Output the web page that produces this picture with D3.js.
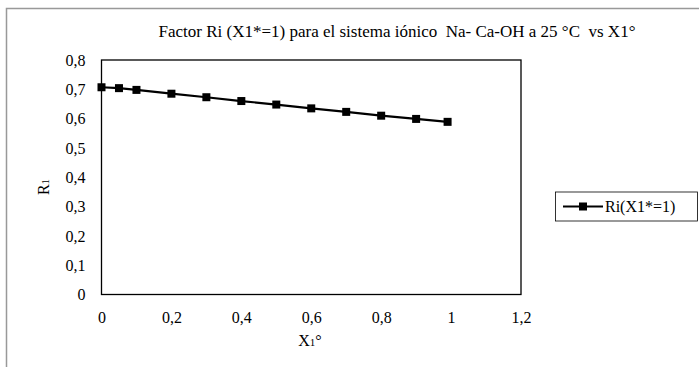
<!DOCTYPE html>
<html>
<head>
<meta charset="utf-8">
<script src="https://cdnjs.cloudflare.com/ajax/libs/d3/7.8.5/d3.min.js"></script>
<style>
  body { margin: 0; background: #fff; }
  svg, svg text { font-family: "Liberation Serif", "Times New Roman", serif; }
</style>
</head>
<body>
<div id="chart"></div>
<script>
const xValues = [0, 0.05, 0.1, 0.2, 0.3, 0.4, 0.5, 0.6, 0.7, 0.8, 0.9, 0.99];
const riValues = [0.707, 0.704, 0.698, 0.685, 0.673, 0.660, 0.648, 0.635, 0.623, 0.610, 0.599, 0.589];
const xTicks = [0, 0.2, 0.4, 0.6, 0.8, 1, 1.2];
const yTicks = [0, 0.1, 0.2, 0.3, 0.4, 0.5, 0.6, 0.7, 0.8];
const seriesName = "Ri(X1*=1)";

const data = xValues.map((x, i) => ({ x: x, y: riValues[i] }));

const width = 699;
const height = 367;
const margin = { top: 60, right: 178, bottom: 72.5, left: 101.5 };

const svg = d3.select("#chart")
  .append("svg")
  .attr("width", width)
  .attr("height", height);

// outer frame
svg.append("rect")
  .attr("x", 6.5)
  .attr("y", 8.5)
  .attr("width", 720)
  .attr("height", 400)
  .attr("fill", "none")
  .attr("stroke", "#999")
  .attr("stroke-width", 1.5);

const x = d3.scaleLinear()
  .domain([0, 1.2])
  .range([margin.left, width - margin.right]);

const y = d3.scaleLinear()
  .domain([0, 0.8])
  .range([height - margin.bottom, margin.top]);

const fmt = d => String(d).replace(".", ",");

// plot area border
svg.append("rect")
  .attr("x", x(0))
  .attr("y", y(0.8))
  .attr("width", x(1.2) - x(0))
  .attr("height", y(0) - y(0.8))
  .attr("fill", "none")
  .attr("stroke", "#000")
  .attr("stroke-width", 1.3);

const xAxis = svg.append("g")
  .attr("transform", `translate(0, ${y(0)})`)
  .call(d3.axisBottom(x).tickValues(xTicks).tickFormat(fmt).tickSize(0).tickPadding(17));
xAxis.select(".domain").remove();
xAxis.attr("font-family", null);
xAxis.selectAll("text").attr("font-size", 16).style("font-family", "Liberation Serif").attr("fill", "#000");

const yAxis = svg.append("g")
  .attr("transform", `translate(${x(0)}, 0)`)
  .call(d3.axisLeft(y).tickValues(yTicks).tickFormat(fmt).tickSize(0).tickPadding(16));
yAxis.select(".domain").remove();
yAxis.attr("font-family", null);
yAxis.selectAll("text").attr("font-size", 16).style("font-family", "Liberation Serif").attr("fill", "#000");

// title
svg.append("text")
  .attr("x", 397)
  .attr("y", 37)
  .attr("text-anchor", "middle")
  .attr("font-size", 17)
  .attr("xml:space", "preserve")
  .text("Factor Ri (X1*=1) para el sistema iónico  Na- Ca-OH a 25 °C  vs X1°");

// axis titles
const xt = svg.append("text")
  .attr("x", 310)
  .attr("y", 346)
  .attr("text-anchor", "middle")
  .attr("font-size", 16);
xt.append("tspan").text("X");
xt.append("tspan").attr("font-size", 11).text("1");
xt.append("tspan").text("°");

const yt = svg.append("text")
  .attr("transform", "translate(49, 187) rotate(-90)")
  .attr("text-anchor", "middle")
  .attr("font-size", 16);
yt.append("tspan").text("R");
yt.append("tspan").attr("font-size", 11).text("1");

// series
const line = d3.line().x(d => x(d.x)).y(d => y(d.y));
svg.append("path")
  .datum(data)
  .attr("d", line)
  .attr("fill", "none")
  .attr("stroke", "#000")
  .attr("stroke-width", 2.2);

svg.selectAll("rect.pt")
  .data(data)
  .join("rect")
  .attr("class", "pt")
  .attr("x", d => x(d.x) - 4)
  .attr("y", d => y(d.y) - 4)
  .attr("width", 8)
  .attr("height", 8)
  .attr("fill", "#000");

// legend
const lg = svg.append("g");
lg.append("rect")
  .attr("x", 555.5)
  .attr("y", 192)
  .attr("width", 142)
  .attr("height", 29)
  .attr("fill", "#fff")
  .attr("stroke", "#000")
  .attr("stroke-width", 0.8);
lg.append("line")
  .attr("x1", 563).attr("x2", 603)
  .attr("y1", 206.5).attr("y2", 206.5)
  .attr("stroke", "#000")
  .attr("stroke-width", 2.2);
lg.append("rect")
  .attr("x", 579).attr("y", 202.5)
  .attr("width", 8).attr("height", 8)
  .attr("fill", "#000");
lg.append("text")
  .attr("x", 605)
  .attr("y", 212)
  .attr("font-size", 16)
  .text(seriesName);
</script>
</body>
</html>
